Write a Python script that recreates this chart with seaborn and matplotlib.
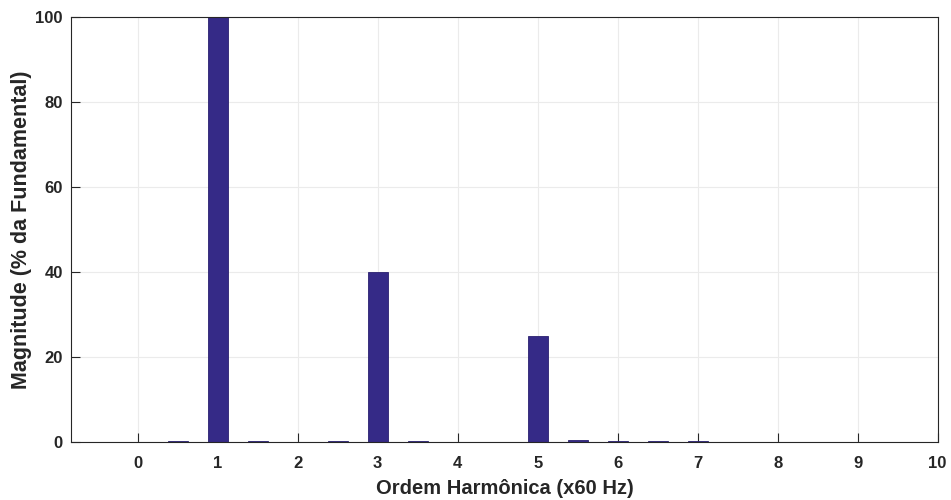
import numpy as np
import pandas as pd
import matplotlib
matplotlib.use("Agg")
import matplotlib.pyplot as plt
import seaborn as sns

# harmonic order (x60 Hz) and magnitude (% of fundamental)
ordem = [0.0, 0.5, 1.0, 1.5, 2.0, 2.5, 3.0, 3.5, 4.0, 4.5,
         5.0, 5.5, 6.0, 6.5, 7.0, 7.5, 8.0, 8.5, 9.0, 9.5]
magnitude = [0.05, 0.2, 100.0, 0.2, 0.1, 0.2, 40.0, 0.3, 0.1, 0.1,
             25.0, 0.5, 0.3, 0.2, 0.2, 0.1, 0.1, 0.1, 0.1, 0.1]
xticks = list(range(0, 11))
yticks = [0, 20, 40, 60, 80, 100]

df = pd.DataFrame({"ordem": ordem, "mag": magnitude})

sns.set_style("white")
plt.rcParams["font.family"] = ["Liberation Sans", "DejaVu Sans"]

fig, ax = plt.subplots(figsize=(9.51, 5.0), dpi=100)
fig.subplots_adjust(left=0.075, right=0.986, top=0.966, bottom=0.116)

sns.barplot(data=df, x="ordem", y="mag", native_scale=True, width=0.5,
            color="#352a87", saturation=1, edgecolor="#2a2070", linewidth=0.6, ax=ax)

ax.set_xlim(-0.83, 10)
ax.set_ylim(0, 100)
ax.set_xticks(xticks)
ax.set_yticks(yticks)
ax.grid(True, color="#ebebeb", linewidth=0.8)
ax.set_axisbelow(True)

txt = "#262626"
ax.tick_params(axis="both", direction="in", length=6.5, width=0.8, colors=txt,
               labelsize=12, bottom=True, left=True, top=False, right=False)
ax.tick_params(axis="x", pad=10)
ax.tick_params(axis="y", pad=6)
for lab in ax.get_xticklabels() + ax.get_yticklabels():
    lab.set_fontweight("bold")
for s in ax.spines.values():
    s.set_visible(True)
    s.set_color(txt)
    s.set_linewidth(0.8)

ax.set_xlabel("Ordem Harmônica (x60 Hz)", fontsize=14.5, fontweight="bold", color=txt, labelpad=6)
ax.set_ylabel("Magnitude (% da Fundamental)", fontsize=15.5, fontweight="bold", color=txt, labelpad=2.5)

fig.savefig("out.png", dpi=100)
